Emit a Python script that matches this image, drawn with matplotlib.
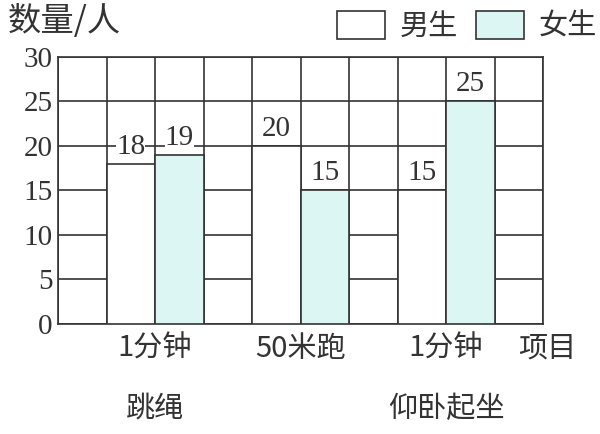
import matplotlib
matplotlib.use("Agg")
import matplotlib.pyplot as plt
from matplotlib.patches import Patch

# ---------------------------------------------------------------
# DATA
# ---------------------------------------------------------------
categories = ['1分钟\n\n跳绳', '50米跑', '1分钟\n\n仰卧起坐']
boys = [18, 20, 15]
girls = [19, 15, 25]
y_ticks = [0, 5, 10, 15, 20, 25, 30]

CJK = ['Noto Sans CJK SC', 'DejaVu Sans']
SERIF = ['Liberation Serif', 'DejaVu Serif']
INK = '#333333'
GIRL_FILL = '#dcf6f3'

plt.rcParams['font.family'] = CJK

fig = plt.figure(figsize=(6.0, 4.34), dpi=100)
ax = fig.add_axes([0.0967, 0.2535, 0.8083, 0.6152])

# each project takes 3 grid columns: boy bar, girl bar, empty column
group_centers = [2 + 3 * i for i in range(len(categories))]
boy_x = [c - 0.5 for c in group_centers]
girl_x = [c + 0.5 for c in group_centers]

ax.bar(boy_x, boys, width=1.0, color='white', edgecolor=INK, linewidth=1.2, zorder=3)
ax.bar(girl_x, girls, width=1.0, color=GIRL_FILL, edgecolor=INK, linewidth=1.2, zorder=3)

for xs, vals in ((boy_x, boys), (girl_x, girls)):
    for x, v in zip(xs, vals):
        ax.annotate(str(v), xy=(x, v), xytext=(0, 3), textcoords='offset points',
                    ha='center', va='bottom', fontsize=21, color=INK,
                    family=SERIF, zorder=4,
                    bbox=dict(boxstyle='square,pad=0.0', fc='white', ec='none'))

ax.set_xlim(0, 10)
ax.set_ylim(0, 30)
ax.set_xticks(range(0, 11))
ax.set_xticklabels([])
ax.set_yticks(y_ticks)
ax.set_yticklabels([str(t) for t in y_ticks], family=SERIF, fontsize=21, color=INK)
ax.tick_params(axis='both', length=0, pad=4)
ax.grid(True, color=INK, linewidth=1.2, zorder=1)
ax.set_axisbelow(True)
for s in ax.spines.values():
    s.set_color(INK)
    s.set_linewidth(1.2)

# category labels under the grid
for c, lab in zip(group_centers, categories):
    ax.text(c, -1.1, lab, ha='center', va='top', fontsize=21, color=INK,
            family=CJK, linespacing=1.0)
ax.text(9.48, -1.1, '项目', ha='left', va='top', fontsize=21, color=INK, family=CJK)

fig.text(0.013, 0.99, '数量/人', ha='left', va='top', fontsize=24, color=INK, family=CJK)

handles = [Patch(facecolor='white', edgecolor=INK, linewidth=1.2),
           Patch(facecolor=GIRL_FILL, edgecolor=INK, linewidth=1.2)]
fig.legend(handles, ['男生', '女生'], loc='upper left', bbox_to_anchor=(0.533, 1.015),
           ncol=2, frameon=False, handlelength=1.65, handleheight=1.1,
           handletextpad=0.5, columnspacing=0.6, labelcolor=INK, borderaxespad=0.2,
           prop={'family': CJK, 'size': 21})

fig.savefig('out.png', dpi=100, facecolor='white')
